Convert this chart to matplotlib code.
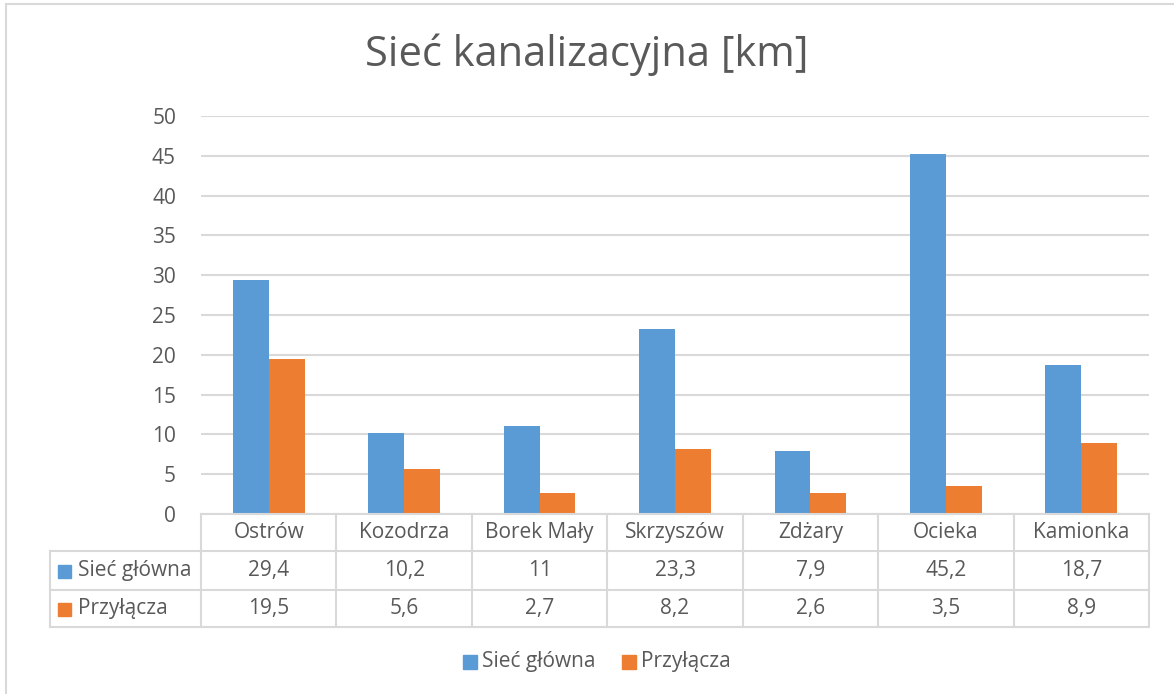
import matplotlib
matplotlib.use("Agg")
import matplotlib.pyplot as plt
import matplotlib.transforms as mtransforms
from matplotlib.lines import Line2D
from matplotlib.patches import Rectangle
import numpy as np

categories = ["Ostrów", "Kozodrza", "Borek Mały", "Skrzyszów", "Zdżary", "Ocieka", "Kamionka"]
siec_glowna = [29.4, 10.2, 11, 23.3, 7.9, 45.2, 18.7]
przylacza = [19.5, 5.6, 2.7, 8.2, 2.6, 3.5, 8.9]
series_names = ["Sieć główna", "Przyłącza"]
title = "Sieć kanalizacyjna [km]"

blue = "#5B9BD5"
orange = "#ED7D31"
grid_col = "#D9D9D9"
text_col = "#595959"

plt.rcParams["font.family"] = ["Open Sans", "DejaVu Sans"]

W, H = 1174, 694
fig = plt.figure(figsize=(W / 100, H / 100), dpi=100)


def fy(y):
    return 1 - y / H


def fx(x):
    return x / W


# outer chart frame (only left and top edges visible)
fig.add_artist(Line2D([fx(6), fx(6)], [fy(4), 0], transform=fig.transFigure, color=grid_col, lw=1.5))
fig.add_artist(Line2D([fx(6), 1], [fy(4), fy(4)], transform=fig.transFigure, color=grid_col, lw=1.5))

ax = fig.add_axes([fx(201), fy(514), fx(1149) - fx(201), fy(116) - fy(514)])
x = np.arange(len(categories))
bw = 0.265
ax.bar(x - bw / 2, siec_glowna, bw, color=blue, zorder=3)
ax.bar(x + bw / 2, przylacza, bw, color=orange, zorder=3)

ax.set_xlim(-0.5, len(categories) - 0.5)
ax.set_ylim(0, 50)
ax.set_yticks(np.arange(0, 51, 5))
ax.yaxis.grid(True, color=grid_col, lw=1.5)
ax.set_axisbelow(True)
ax.set_xticks([])
for s in ax.spines.values():
    s.set_visible(False)
ax.tick_params(axis="y", length=0, labelsize=15, labelcolor=text_col, pad=18)

fig.text(0.5, fy(55), title, ha="center", va="center", fontsize=30, color=text_col)

# data table
bt = mtransforms.blended_transform_factory(ax.transData, fig.transFigure)
row_y = [514, 551, 590, 627]
lw_t = 1.5
fig.add_artist(Line2D([fx(201), fx(1149)], [fy(514), fy(514)], transform=fig.transFigure, color=grid_col, lw=lw_t))
for ry in row_y[1:]:
    fig.add_artist(Line2D([fx(50), fx(1149)], [fy(ry), fy(ry)], transform=fig.transFigure, color=grid_col, lw=lw_t))
fig.add_artist(Line2D([fx(50), fx(50)], [fy(551), fy(627)], transform=fig.transFigure, color=grid_col, lw=lw_t))
for b in np.arange(-0.5, len(categories), 1.0):
    fig.add_artist(Line2D([b, b], [fy(514), fy(627)], transform=bt, color=grid_col, lw=lw_t))

centers = [(row_y[i] + row_y[i + 1]) / 2 for i in range(3)]
for i, cat in enumerate(categories):
    fig.text(i, fy(centers[0]), cat, transform=bt, ha="center", va="center", fontsize=15, color=text_col)
    fig.text(i, fy(centers[1]), f"{siec_glowna[i]:g}".replace(".", ","), transform=bt,
             ha="center", va="center", fontsize=15, color=text_col)
    fig.text(i, fy(centers[2]), f"{przylacza[i]:g}".replace(".", ","), transform=bt,
             ha="center", va="center", fontsize=15, color=text_col)

for name, col, cy in zip(series_names, [blue, orange], centers[1:]):
    fig.add_artist(Rectangle((fx(58), fy(cy + 7)), fx(13), 13 / H, transform=fig.transFigure, color=col))
    fig.text(fx(78), fy(cy), name, ha="left", va="center", fontsize=15, color=text_col)

# legend
leg_y = 662
for name, col, lx in zip(series_names, [blue, orange], [463, 622]):
    fig.add_artist(Rectangle((fx(lx), fy(leg_y + 7)), fx(14), 14 / H, transform=fig.transFigure, color=col))
    fig.text(fx(lx + 19), fy(leg_y), name, ha="left", va="center", fontsize=15, color=text_col)

fig.savefig("out.png", dpi=100)
